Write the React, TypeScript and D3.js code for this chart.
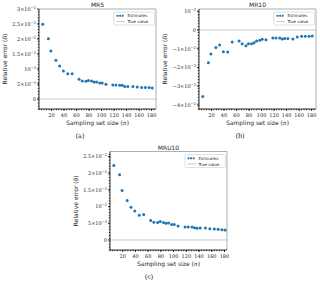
import React from 'react'
import * as d3 from 'd3'

// sampling set sizes (n) shared by all three panels
const sampleSizes = [6, 15, 19, 27, 33, 39, 46, 53, 64, 69, 75, 79, 84, 88, 92, 97, 101, 107, 118, 123, 129, 133, 137, 142, 150, 157, 164, 170, 176, 181]

const mr5Errors = [0.0249, 0.0201, 0.016, 0.0129, 0.011, 0.0093, 0.0084, 0.0084, 0.0066, 0.006, 0.0059, 0.0062, 0.006, 0.0057, 0.0057, 0.0053, 0.0053, 0.0049, 0.0047, 0.0047, 0.0046, 0.0046, 0.0042, 0.0042, 0.0042, 0.004, 0.0038, 0.0038, 0.0038, 0.0037]
const mr10Errors = [-0.0355, -0.0175, -0.0128, -0.0094, -0.008, -0.0116, -0.0117, -0.0064, -0.0059, -0.0073, -0.0084, -0.0073, -0.0073, -0.0068, -0.0059, -0.0055, -0.005, -0.0052, -0.0043, -0.0043, -0.0043, -0.0048, -0.0045, -0.0045, -0.0048, -0.0037, -0.0034, -0.0034, -0.0034, -0.0032]
const mru10Errors = [0.0223, 0.0195, 0.0148, 0.0118, 0.0098, 0.0087, 0.0074, 0.0076, 0.0058, 0.0053, 0.0052, 0.0055, 0.0052, 0.005, 0.0051, 0.0046, 0.0046, 0.0042, 0.0039, 0.0039, 0.0039, 0.0037, 0.0035, 0.0036, 0.0036, 0.0034, 0.0033, 0.0032, 0.0031, 0.003]

const xTicks = [20, 40, 60, 80, 100, 120, 140, 160, 180]

// y tick values with [mantissa, exponent] labels
const yTicksPos = [0, 0.005, 0.01, 0.015, 0.02, 0.025, 0.03]
const yLabelsPos = [['0', ''], ['5×10', '−3'], ['10', '−2'], ['1.5×10', '−2'], ['2×10', '−2'], ['2.5×10', '−2'], ['3×10', '−2']]
const yTicksNeg = [0.01, 0, -0.01, -0.02, -0.03, -0.04]
const yLabelsNeg = [['10', '−2'], ['0', ''], ['−1×10', '−2'], ['−2×10', '−2'], ['−3×10', '−2'], ['−4×10', '−2']]

const blue = '#1f77b4'
const ink = '#222'
const sans = 'DejaVu Sans, sans-serif'
const serif = 'DejaVu Serif, serif'

const Panel = ({ left, top, width, height, xMax, yDomain, values, yTicks, yLabels, title, caption, captionX }) => {
  const x = d3.scaleLinear().domain([0, xMax]).range([left, left + width])
  const y = d3.scaleLinear().domain(yDomain).range([top + height, top])
  const bottom = top + height
  const right = left + width
  const minor = d3.range(0, xMax, 4)
  const yMinor = d3.range(yDomain[0], yDomain[1], (yDomain[1] - yDomain[0]) / 34)
  const lx = right - 42
  const ly = top + 3
  return (
    <g fill={ink}>
      <text x={left + width / 2} y={top - 2} textAnchor="middle" fontFamily={sans} fontSize={6}>{title}</text>
      <line x1={left} x2={right} y1={y(0)} y2={y(0)} stroke="#c8c8c8" strokeWidth={1} />
      <line x1={left} x2={right} y1={top} y2={top} stroke="#999" strokeWidth={0.8} />
      <line x1={right} x2={right} y1={top} y2={bottom} stroke="#999" strokeWidth={0.8} />
      {values.map((v, i) => (
        <circle key={i} cx={x(sampleSizes[i])} cy={y(v)} r={1.5} fill={blue} />
      ))}
      <line x1={left} x2={left} y1={top} y2={bottom} stroke="#000" strokeWidth={0.8} />
      <line x1={left} x2={right} y1={bottom} y2={bottom} stroke="#000" strokeWidth={0.8} />
      {minor.map(t => (
        <line key={'mx' + t} x1={x(t)} x2={x(t)} y1={bottom} y2={bottom + 1.2} stroke="#000" strokeWidth={0.8} />
      ))}
      {yMinor.map((t, i) => (
        <line key={'my' + i} x1={left - 1.2} x2={left} y1={y(t)} y2={y(t)} stroke="#000" strokeWidth={0.8} />
      ))}
      {xTicks.map(t => (
        <g key={'x' + t}>
          <line x1={x(t)} x2={x(t)} y1={bottom} y2={bottom + 2} stroke="#000" strokeWidth={0.8} />
          <text x={x(t)} y={bottom + 7.5} textAnchor="middle" fontFamily={serif} fontSize={5}>{t}</text>
        </g>
      ))}
      {yTicks.map((t, i) => (
        <g key={'y' + i}>
          <line x1={left - 2} x2={left} y1={y(t)} y2={y(t)} stroke="#000" strokeWidth={0.8} />
          <text x={left - 3} y={y(t) + 1.8} textAnchor="end" fontFamily={serif} fontSize={5}>
            {yLabels[i][0]}
            {yLabels[i][1] && <tspan dy={-2} fontSize={3.6}>{yLabels[i][1]}</tspan>}
          </text>
        </g>
      ))}
      <text x={left + width / 2} y={bottom + 16} textAnchor="middle" fontFamily={sans} fontSize={6}>
        Sampling set size (<tspan fontStyle="italic" fontFamily={serif}>n</tspan>)
      </text>
      <text transform={`translate(${left - 32},${top + height / 2}) rotate(-90)`} textAnchor="middle" fontFamily={sans} fontSize={6}>
        Relative error (<tspan fontStyle="italic" fontFamily={serif}>δ</tspan>)
      </text>
      <rect x={lx} y={ly} width={40.5} height={13} fill="#fff" stroke="#ccc" strokeWidth={0.6} rx={1} />
      {[0, 1, 2].map(k => (
        <circle key={k} cx={lx + 3.5 + k * 2.6} cy={ly + 3.8} r={1.1} fill={blue} />
      ))}
      <line x1={lx + 2.5} x2={lx + 11} y1={ly + 9.5} y2={ly + 9.5} stroke="#c8c8c8" strokeWidth={1} />
      <text x={lx + 13.5} y={ly + 5.3} fontFamily={sans} fontSize={4}>Estimates</text>
      <text x={lx + 13.5} y={ly + 11} fontFamily={sans} fontSize={4}>True value</text>
      <text x={captionX} y={bottom + 29} textAnchor="middle" fontFamily={serif} fontSize={6.5}>{caption}</text>
    </g>
  )
}

const App = () => (
  <svg width={320} height={285} style={{ position: 'absolute', left: 0, top: 0, background: '#fff' }}>
    <Panel left={39} top={9} width={117} height={100} xMax={187} yDomain={[-0.00333, 0.03]}
      values={mr5Errors} yTicks={yTicksPos} yLabels={yLabelsPos} title="MR5" caption="(a)" captionX={80} />
    <Panel left={199} top={9} width={117} height={100} xMax={187} yDomain={[-0.0422, 0.0112]}
      values={mr10Errors} yTicks={yTicksNeg} yLabels={yLabelsNeg} title="MR10" caption="(b)" captionX={240} />
    <Panel left={110} top={151.5} width={117} height={98.5} xMax={184} yDomain={[-0.003, 0.0265]}
      values={mru10Errors} yTicks={yTicksPos.slice(0, 6)} yLabels={yLabelsPos.slice(0, 6)} title="MRU10" caption="(c)" captionX={149} />
  </svg>
)

export default App
